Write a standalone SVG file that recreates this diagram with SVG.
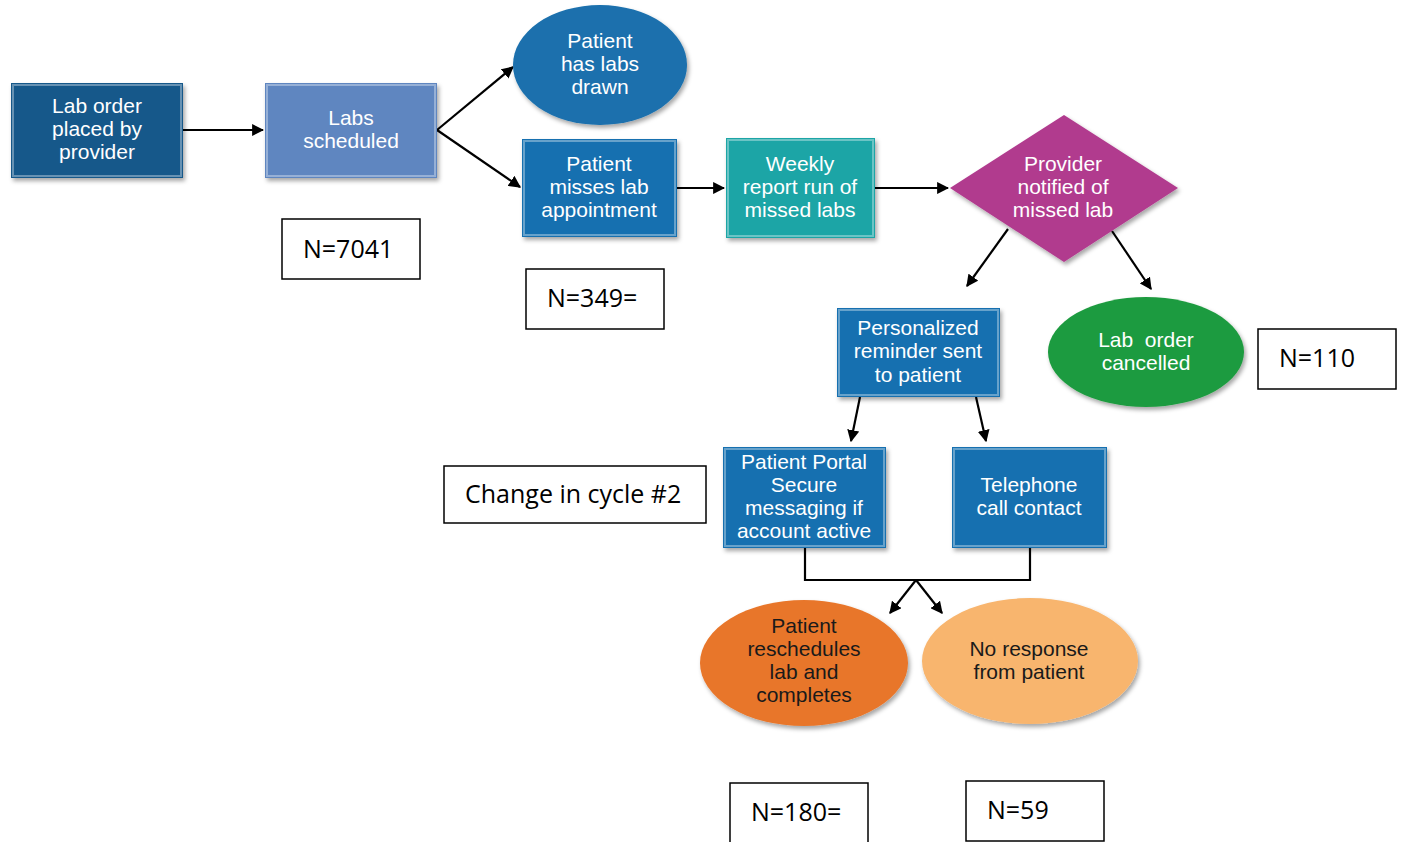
<svg xmlns="http://www.w3.org/2000/svg" width="1405" height="842" viewBox="0 0 1405 842">
<defs>
<filter id="sh" x="-10%" y="-10%" width="125%" height="130%">
<feDropShadow dx="2" dy="3" stdDeviation="2" flood-color="#000" flood-opacity="0.35"/>
</filter>
<marker id="ah" viewBox="0 0 10 10" refX="9" refY="5" markerWidth="5.5" markerHeight="5.5" orient="auto-start-reverse">
<path d="M0,0 L10,5 L0,10 z" fill="#000"/>
</marker>
</defs>
<style>
.lbl{font-family:"Liberation Sans",Arial,sans-serif;font-size:21px;fill:#fff;text-anchor:middle}
.dk{fill:#1a1a1a}
.nb{fill:#fff;stroke:#000;stroke-width:1.5}
.nt{font-family:"Open Sans","Liberation Sans",sans-serif;font-size:25px;fill:#000}
.c{fill:none;stroke:#000;stroke-width:2.2}
.edge{fill:none;stroke:#fff;stroke-opacity:0.35;stroke-width:2}
</style>
<rect width="1405" height="842" fill="#fff"/>
<g id="connectors">
<line class="c" x1="183" y1="130" x2="263" y2="130" marker-end="url(#ah)"/>
<line class="c" x1="437" y1="130" x2="513" y2="67" marker-end="url(#ah)"/>
<line class="c" x1="437" y1="130" x2="520" y2="187" marker-end="url(#ah)"/>
<line class="c" x1="677" y1="188" x2="724" y2="188" marker-end="url(#ah)"/>
<line class="c" x1="875" y1="188" x2="948" y2="188" marker-end="url(#ah)"/>
<line class="c" x1="1008" y1="229" x2="967" y2="286" marker-end="url(#ah)"/>
<line class="c" x1="1112" y1="231" x2="1151" y2="289" marker-end="url(#ah)"/>
<line class="c" x1="860" y1="397" x2="851" y2="441" marker-end="url(#ah)"/>
<line class="c" x1="976" y1="397" x2="986" y2="441" marker-end="url(#ah)"/>
<polyline class="c" points="805,548 805,580 1030,580 1030,548"/>
<line class="c" x1="916" y1="580" x2="890" y2="613" marker-end="url(#ah)"/>
<line class="c" x1="916" y1="580" x2="942" y2="613" marker-end="url(#ah)"/>
</g>
<g id="n1">
<rect x="11" y="83" width="172" height="95" fill="#17598a" filter="url(#sh)"/>
<rect x="13" y="85" width="168" height="91" class="edge"/>
<text class="lbl"><tspan x="97" y="113">Lab order</tspan><tspan x="97" y="136">placed by</tspan><tspan x="97" y="159">provider</tspan></text>
</g>
<g id="n2">
<rect x="265" y="83" width="172" height="95" fill="#5f86c0" filter="url(#sh)"/>
<rect x="267" y="85" width="168" height="91" class="edge"/>
<text class="lbl"><tspan x="351" y="125">Labs</tspan><tspan x="351" y="148">scheduled</tspan></text>
</g>
<g id="n3">
<ellipse cx="600" cy="65" rx="87" ry="60" fill="#1a70ad" filter="url(#sh)"/>
<text class="lbl"><tspan x="600" y="48">Patient</tspan><tspan x="600" y="71">has labs</tspan><tspan x="600" y="94">drawn</tspan></text>
</g>
<g id="n4">
<rect x="522" y="139" width="155" height="98" fill="#1570b0" filter="url(#sh)"/>
<rect x="524" y="141" width="151" height="94" class="edge"/>
<text class="lbl"><tspan x="599" y="171">Patient</tspan><tspan x="599" y="194">misses lab</tspan><tspan x="599" y="217">appointment</tspan></text>
</g>
<g id="n5">
<rect x="726" y="138" width="149" height="100" fill="#1fa5a6" filter="url(#sh)"/>
<rect x="728" y="140" width="145" height="96" class="edge"/>
<text class="lbl"><tspan x="800" y="171">Weekly</tspan><tspan x="800" y="194">report run of</tspan><tspan x="800" y="217">missed labs</tspan></text>
</g>
<g id="n6">
<polygon points="950,188 1064,115 1178,188 1064,262" fill="#b13b8e" filter="url(#sh)"/>
<text class="lbl"><tspan x="1063" y="171">Provider</tspan><tspan x="1063" y="194">notified of</tspan><tspan x="1063" y="217">missed lab</tspan></text>
</g>
<g id="n7">
<rect x="837" y="308" width="163" height="89" fill="#1570b0" filter="url(#sh)"/>
<rect x="839" y="310" width="159" height="85" class="edge"/>
<text class="lbl"><tspan x="918" y="335">Personalized</tspan><tspan x="918" y="358">reminder sent</tspan><tspan x="918" y="382">to patient</tspan></text>
</g>
<g id="n8">
<ellipse cx="1146" cy="352" rx="98" ry="55" fill="#1f9b3f" filter="url(#sh)"/>
<text class="lbl"><tspan x="1146" y="347">Lab&#160; order</tspan><tspan x="1146" y="370">cancelled</tspan></text>
</g>
<g id="n9">
<rect x="723" y="447" width="163" height="101" fill="#1570b0" filter="url(#sh)"/>
<rect x="725" y="449" width="159" height="97" class="edge"/>
<text class="lbl"><tspan x="804" y="469">Patient Portal</tspan><tspan x="804" y="492">Secure</tspan><tspan x="804" y="515">messaging if</tspan><tspan x="804" y="538">account active</tspan></text>
</g>
<g id="n10">
<rect x="952" y="447" width="155" height="101" fill="#1570b0" filter="url(#sh)"/>
<rect x="954" y="449" width="151" height="97" class="edge"/>
<text class="lbl"><tspan x="1029" y="492">Telephone</tspan><tspan x="1029" y="515">call contact</tspan></text>
</g>
<g id="n11">
<ellipse cx="804" cy="663" rx="104" ry="63" fill="#e8762a" filter="url(#sh)"/>
<text class="lbl dk"><tspan x="804" y="633">Patient</tspan><tspan x="804" y="656">reschedules</tspan><tspan x="804" y="679">lab and</tspan><tspan x="804" y="702">completes</tspan></text>
</g>
<g id="n12">
<ellipse cx="1030" cy="661" rx="108" ry="63" fill="#f8b56e" filter="url(#sh)"/>
<text class="lbl dk"><tspan x="1029" y="656">No response</tspan><tspan x="1029" y="679">from patient</tspan></text>
</g>
<g id="t7041"><rect class="nb" x="282" y="219" width="138" height="60"/><text class="nt" x="303" y="258">N=7041</text></g>
<g id="t349"><rect class="nb" x="526" y="269" width="138" height="60"/><text class="nt" x="547" y="307">N=349=</text></g>
<g id="t110"><rect class="nb" x="1258" y="329" width="138" height="60"/><text class="nt" x="1279" y="367">N=110</text></g>
<g id="tcycle"><rect class="nb" x="444" y="466" width="262" height="57"/><text class="nt" x="465" y="503">Change in cycle #2</text></g>
<g id="t180"><rect class="nb" x="730" y="783" width="138" height="62"/><text class="nt" x="751" y="821">N=180=</text></g>
<g id="t59"><rect class="nb" x="966" y="781" width="138" height="60"/><text class="nt" x="987" y="819">N=59</text></g>
</svg>
